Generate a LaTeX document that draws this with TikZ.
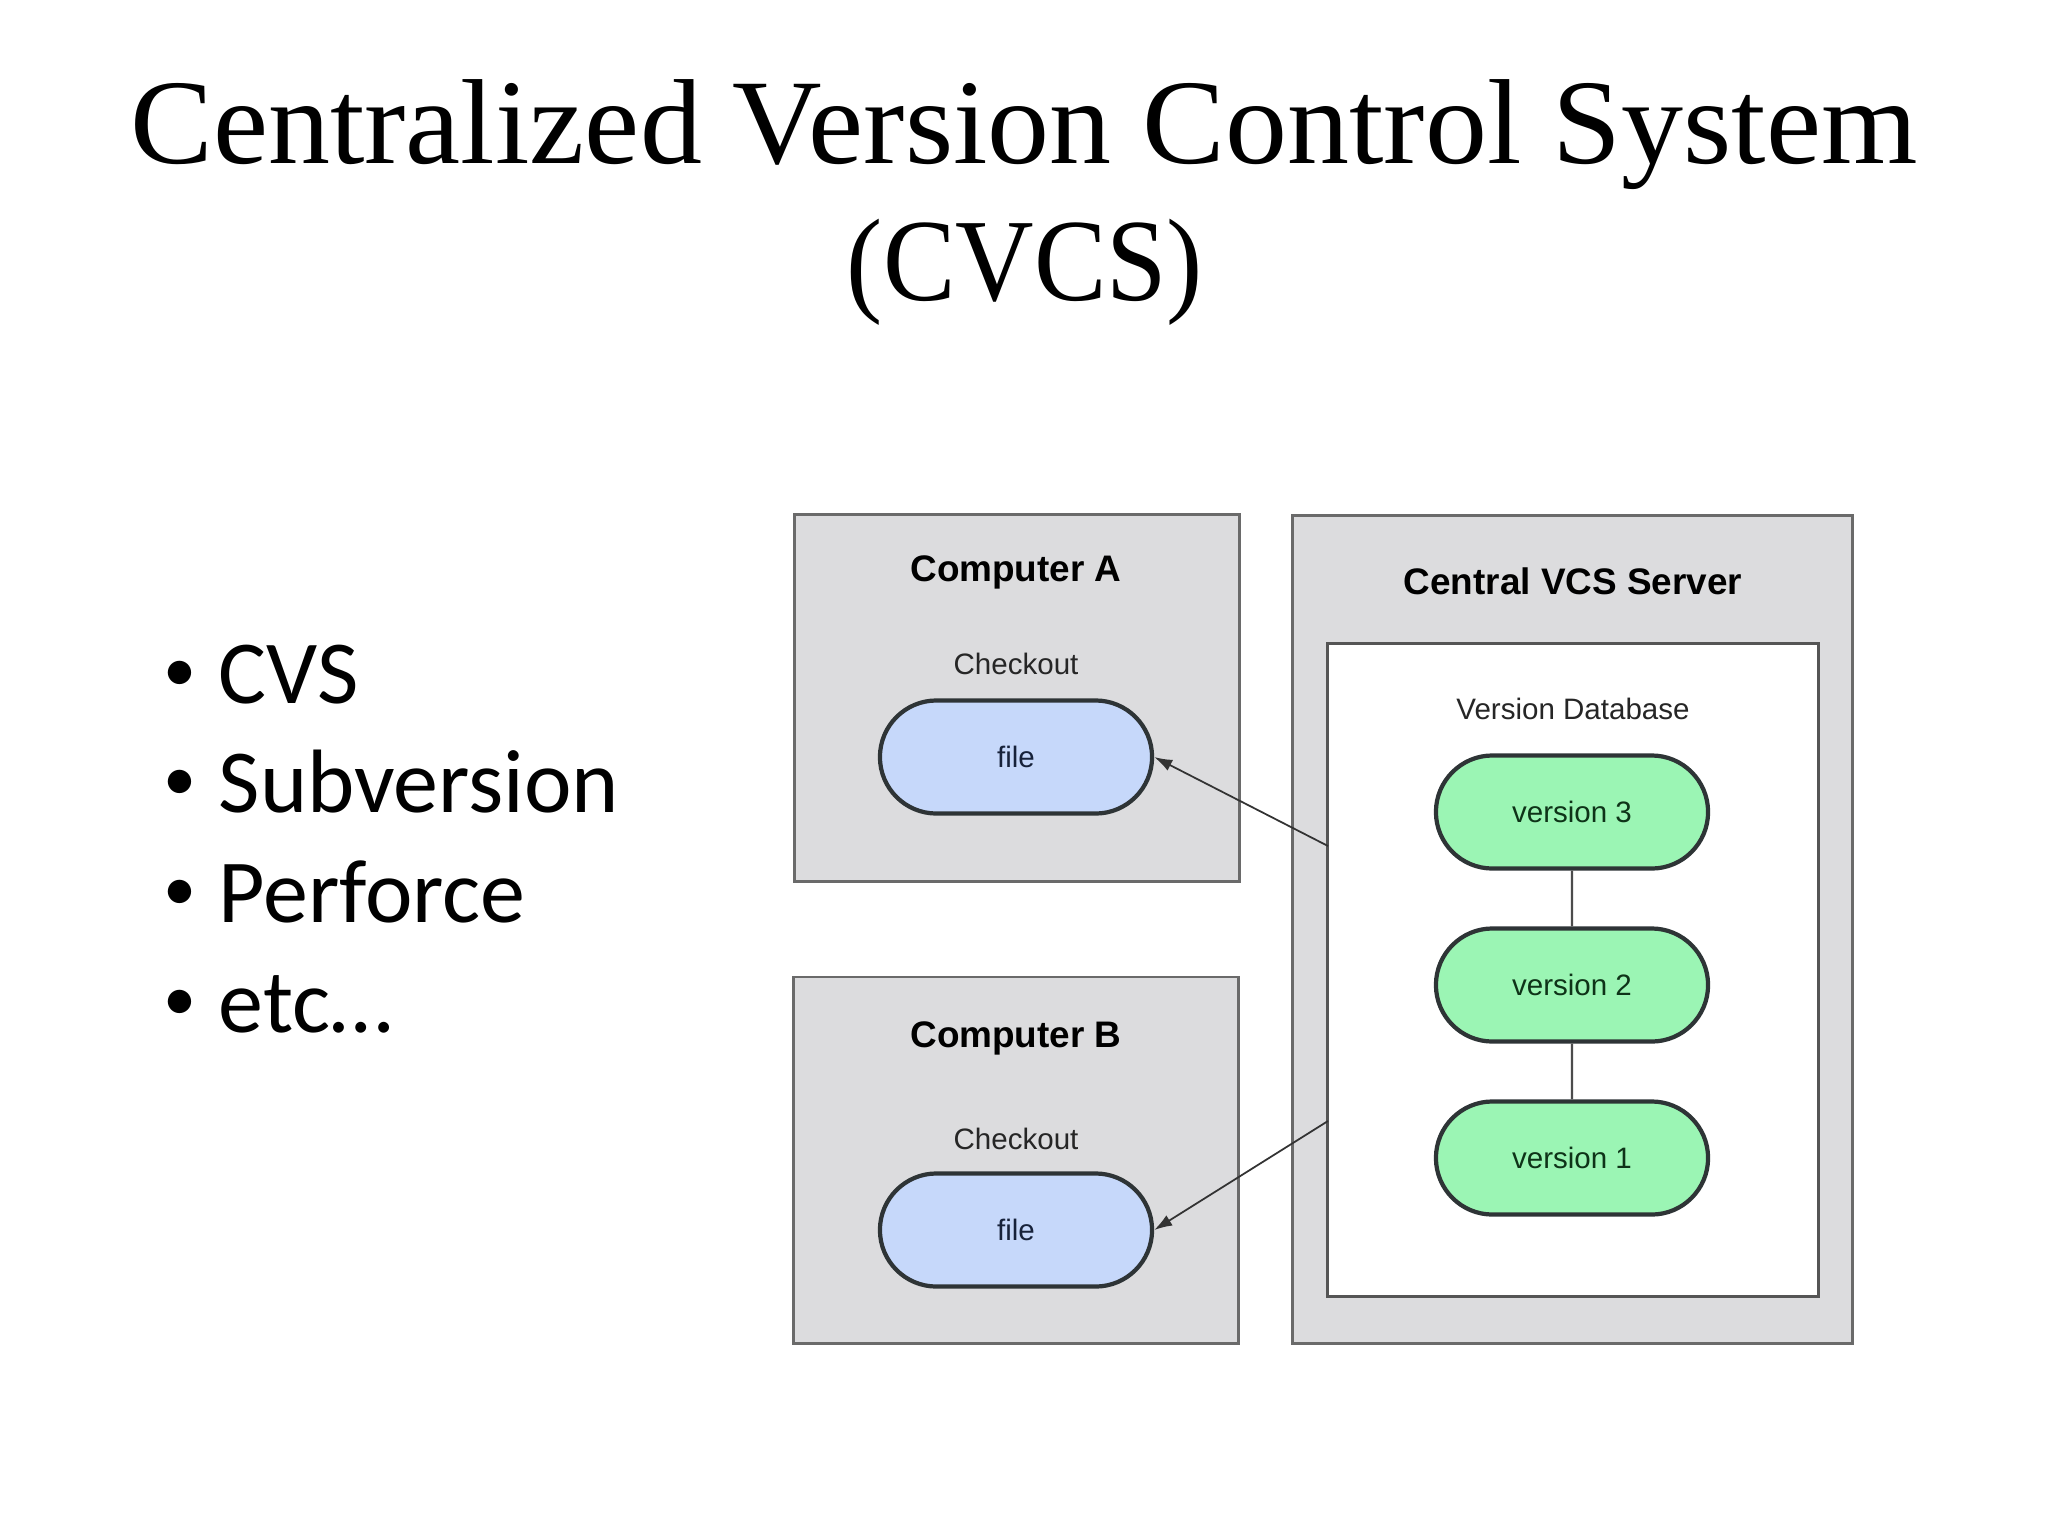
\documentclass[tikz,border=0pt]{standalone}
\usepackage{fontspec}
\setmainfont{Liberation Serif}
\newfontfamily\bulletfont{Carlito}
\newfontfamily\diagfont{Liberation Sans}
\usetikzlibrary{shapes.misc,arrows.meta}
\definecolor{boxgray}{HTML}{DCDCDE}
\definecolor{boxline}{HTML}{6A6A6A}
\definecolor{innerline}{HTML}{555555}
\definecolor{fileblue}{HTML}{C6D8FA}
\definecolor{filetext}{HTML}{17223A}
\definecolor{vergreen}{HTML}{9BF5B4}
\definecolor{vertext}{HTML}{0E3318}
\definecolor{pillline}{HTML}{2E3436}
\definecolor{arrowcol}{HTML}{333333}
\newcommand{\titlesize}{\fontsize{34.4pt}{40pt}\selectfont}
\newsavebox\ttlbox
\sbox\ttlbox{\titlesize Centralized Version Control System}
\pgfmathsetmacro\ttlsx{508.17/\the\wd\ttlbox}
\newsavebox\ttlboxb
\sbox\ttlboxb{\titlesize (CVCS)}
\pgfmathsetmacro\ttlsxb{101.3/\the\wd\ttlboxb}
\begin{document}
\begin{tikzpicture}[x=0.01cm, y=-0.01cm,
  gbox/.style={rectangle, draw=boxline, fill=boxgray, line width=0.8pt, inner sep=0pt},
  wbox/.style={rectangle, draw=innerline, fill=white, line width=0.8pt, inner sep=0pt},
  boxtitle/.style={anchor=base, inner sep=0pt, font=\diagfont\bfseries\fontsize{10.5pt}{12pt}\selectfont},
  sublabel/.style={anchor=base, inner sep=0pt, text=black!85, font=\diagfont\fontsize{8.4pt}{10pt}\selectfont},
  pill/.style={rounded rectangle, draw=pillline, line width=1.2pt, minimum width=2.72cm, minimum height=1.13cm, inner sep=0pt, font=\diagfont\fontsize{8.4pt}{10pt}\selectfont},
  filepill/.style={pill, fill=fileblue, text=filetext},
  verpill/.style={pill, fill=vergreen, text=vertext},
  fetch/.style={draw=arrowcol, line width=0.5pt, -{Latex[length=0.18cm,width=0.12cm]}},
  link/.style={draw=black!70, line width=0.6pt},
  titleline/.style={anchor=base, inner sep=0pt},
  bulletdot/.style={anchor=base, inner sep=0pt, font=\bulletfont\fontsize{18.8pt}{22pt}\selectfont},
  bullettext/.style={anchor=base west, inner sep=0pt, font=\bulletfont\fontsize{25.6pt}{30pt}\selectfont}
]
\fill[white] (0,0) rectangle (2048,1536);
\useasboundingbox (0,0) rectangle (2048,1536);

% title
\node[titleline] (title1) at (1024,163) {\scalebox{\ttlsx}[1]{\titlesize Centralized Version Control System}};
\node[titleline] (title2) at (1025,300) {\scalebox{\ttlsxb}[0.97]{\titlesize (CVCS)}};

% bullets
\node[bulletdot] (b1) at (180,691) {•};
\node[bullettext] (t1) at (218,703) {CVS};
\node[bulletdot] (b2) at (180,800) {•};
\node[bullettext] (t2) at (218,812) {Subversion};
\node[bulletdot] (b3) at (180,910) {•};
\node[bullettext] (t3) at (218,922) {Perforce};
\node[bulletdot] (b4) at (180,1020) {•};
\node[bullettext] (t4) at (218,1032) {etc…};

% computer A
\node[gbox, minimum width=4.44cm, minimum height=3.66cm] (compA) at (1017,698) {};
\node[boxtitle] (compAt) at (1016,581) {Computer A};
\node[sublabel] (chkA) at (1016,674) {Checkout};
\node[filepill] (fileA) at (1016,757) {file};

% computer B
\node[gbox, minimum width=4.44cm, minimum height=3.66cm] (compB) at (1016,1160) {};
\node[boxtitle] (compBt) at (1016,1047) {Computer B};
\node[sublabel] (chkB) at (1016,1149) {Checkout};
\node[filepill] (fileB) at (1016,1230) {file};

% server
\node[gbox, minimum width=5.59cm, minimum height=8.27cm] (server) at (1572.5,929.5) {};
\node[boxtitle] (servert) at (1573,594) {Central VCS Server};
\node[wbox, minimum width=4.90cm, minimum height=6.52cm] (db) at (1573,970) {};
\node[sublabel] (dbt) at (1573,719) {Version Database};
\node[verpill] (v3) at (1572,812) {version 3};
\node[verpill] (v2) at (1572,985) {version 2};
\node[verpill] (v1) at (1572,1158) {version 1};
\draw[link] (v3) -- (v2);
\draw[link] (v2) -- (v1);

% checkouts
\coordinate (outA) at (1328,846);
\coordinate (outB) at (1328,1121);
\draw[fetch] (outA) -- (fileA.east);
\draw[fetch] (outB) -- (fileB.east);
\end{tikzpicture}
\end{document}
